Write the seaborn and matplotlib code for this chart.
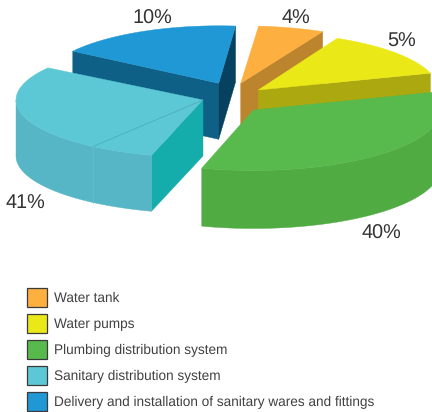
import numpy as np
import matplotlib
matplotlib.use("Agg")
import matplotlib.pyplot as plt
from matplotlib.patches import Patch, Polygon
import seaborn as sns

# ---- data ----
categories = ["Water tank", "Water pumps", "Plumbing distribution system",
              "Sanitary distribution system",
              "Delivery and installation of sanitary wares and fittings"]
shares = [4, 5, 40, 41, 10]

# ---- view / style ----
top_colors = ["#FDAF3F", "#EBE818", "#58B94C", "#5DC8D5", "#1F98D5"]
outer_colors = ["#BC842C", "#ABA90F", "#4FAB42", "#56B6C6", "#0E6087"]
start_wall = [None, None, None, "#15ADAB", "#0E6087"]
end_wall = ["#BC842C", "#ABA90F", None, None, "#06425F"]
apex = [(240.7, 83.3), (258.3, 90), (253.3, 110), (203, 100), (218.7, 83.3)]
rx = [187, 180, 187, 187, 176]
ry = [57.5, 57.5, 60.5, 57.5, 57.5]
depth = [56, 56, 58, 56, 56]
# the drawn view does not sweep evenly: cumulative share -> drawn ellipse angle
warp_in = [0, 4, 9, 49, 90, 100]
warp_out = [5.5, 26, 73, 196, 304, 365.5]
seam_angle = 216
label_pos = [(296, 18.5), (402, 41.5), (381, 233.5), (25, 203.5), (152, 18.5)]

sns.set_theme(style="white")
plt.rcParams["font.family"] = ["Liberation Sans", "DejaVu Sans"]
plt.rcParams["text.hinting"] = "none"
fig, ax = plt.subplots(figsize=(4.32, 4.12), dpi=100)
ax.set_position([0, 0, 1, 1])
ax.set_xlim(0, 432)
ax.set_ylim(412, 0)
ax.axis("off")

cum = np.concatenate([[0], np.cumsum(shares)])
angles = np.interp(cum, warp_in, warp_out)


def arc(i, a, b, dz=0.0, n=80):
    c = apex[i]
    t = np.radians(np.linspace(a, b, n))
    return np.column_stack([c[0] + rx[i] * np.sin(t), c[1] - ry[i] * np.cos(t) + dz])


def poly(pts, color, z, lw=0.3):
    ax.add_patch(Polygon(pts, closed=True, facecolor=color, edgecolor=color,
                         linewidth=lw, zorder=z))


order = [0, 1, 4, 3, 2]
for rank, i in enumerate(order):
    a, b = angles[i], angles[i + 1]
    c, d = apex[i], depth[i]
    z = 10 * (rank + 1)
    pa = arc(i, a, a, n=1)[0]
    pb = arc(i, b, b, n=1)[0]
    # radial walls
    if start_wall[i]:
        poly([c, pa, pa + [0, d], (c[0], c[1] + d)], start_wall[i], z)
    if end_wall[i]:
        poly([c, pb, pb + [0, d], (c[0], c[1] + d)], end_wall[i], z)
    # outer wall: the part of the rim that faces the viewer
    lo, hi = max(a, 90), min(b, 270)
    if lo < hi:
        rim_top = arc(i, lo, hi)
        rim_bot = arc(i, lo, hi, d)
        poly(np.vstack([rim_top, rim_bot[::-1]]), outer_colors[i], z + 1)
    # top face
    poly(np.vstack([[c], arc(i, a, b)]), top_colors[i], z + 2)
    # thin seam on the sanitary slice
    if i == 3 and a < seam_angle < b:
        s = arc(i, seam_angle, seam_angle, n=1)[0]
        ax.plot([c[0], s[0]], [c[1], s[1]], color="#4AA7B5", lw=0.5, zorder=z + 3)
        ax.plot([s[0], s[0]], [s[1], s[1] + d], color="#62C0CE", lw=0.5, zorder=z + 3)

for v, (x, y) in zip(shares, label_pos):
    ax.text(x, y, f"{v}%", ha="center", va="center", fontsize=14.3,
            color="#333333", zorder=100)

handles = [Patch(facecolor=col, edgecolor="#3A3A3A", linewidth=0.9) for col in top_colors]
ax.legend(handles, categories, loc="lower left", bbox_to_anchor=(27 / 432, 1 - 411 / 412),
          frameon=False, fontsize=9.77, labelcolor="#404040", borderpad=0, borderaxespad=0,
          handlelength=1.47, handleheight=1.78, handletextpad=0.5, labelspacing=0.516)

fig.savefig("out.png", dpi=100)
